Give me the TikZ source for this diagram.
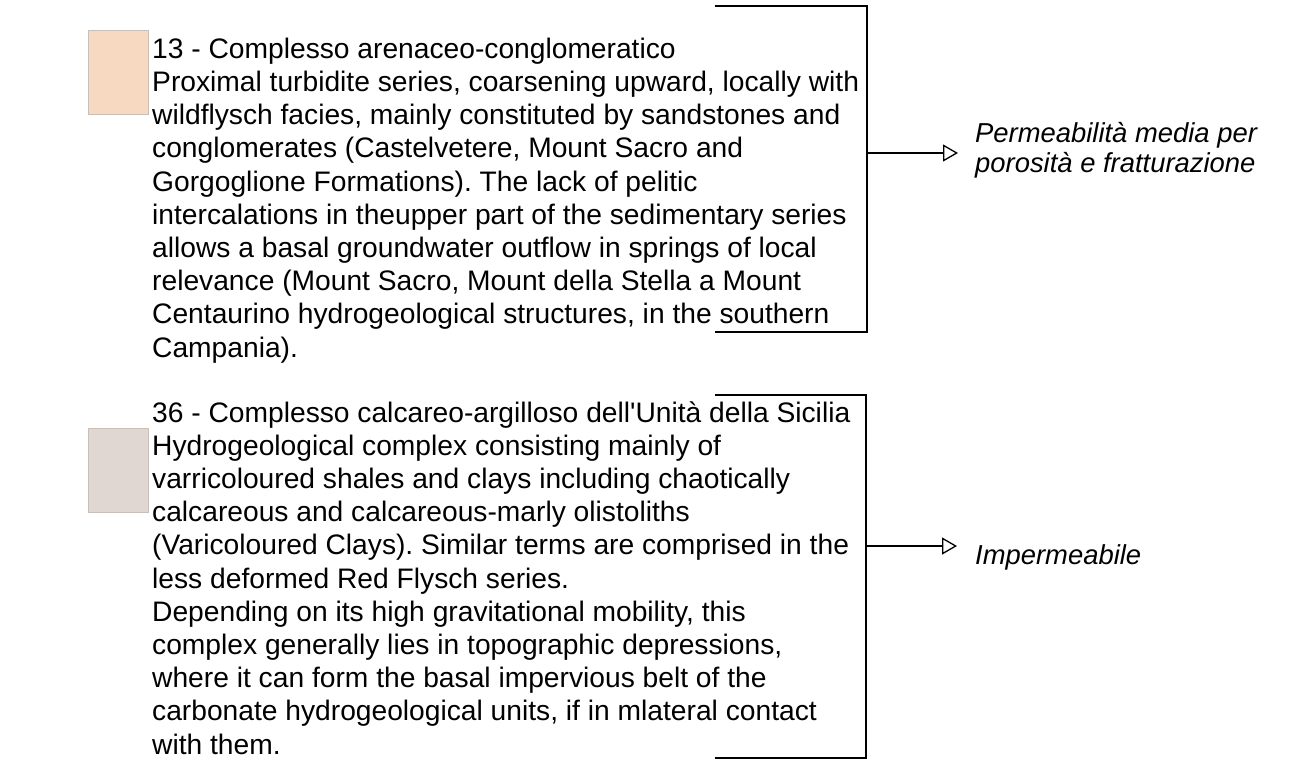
\documentclass[tikz,border=0pt]{standalone}
\usepackage{fontspec}
\setmainfont{Liberation Sans}
\usetikzlibrary{arrows.meta}
\frenchspacing
\definecolor{peach}{HTML}{F6D9C0}
\definecolor{clay}{HTML}{E0D6D2}
\definecolor{swborder}{HTML}{C8BFB8}
\tikzset{
  body/.style={anchor=base west, align=left, inner sep=0pt,
    font=\fontsize{28.2}{33.2}\selectfont},
  result/.style={anchor=base west, align=left, inner sep=0pt,
    font=\fontsize{27.4}{30}\selectfont\itshape},
  swatch/.style={draw=swborder, line width=0.8pt, minimum width=60pt,
    minimum height=84pt, inner sep=0pt, anchor=north west},
  bracket/.style={line width=1.6pt},
  link/.style={line width=1.3pt, -{Triangle[open,length=15pt,width=17pt,line width=1.3pt]}}
}
\begin{document}
\begin{tikzpicture}[x=1pt,y=-1pt]
\useasboundingbox (0,0) rectangle (1316,780);
% swatches
\node[swatch, fill=peach] (s1) at (88,30) {};
\node[swatch, fill=clay] (s2) at (88,428) {};
% text blocks (anchored at the baseline of their last line)
\node[body] (t1) at (152,357) {13 - Complesso arenaceo-conglomeratico\\
Proximal turbidite series, coarsening upward, locally with\\
wildflysch facies, mainly constituted by sandstones and\\
conglomerates (Castelvetere, Mount Sacro and\\
Gorgoglione Formations). The lack of pelitic\\
intercalations in theupper part of the sedimentary series\\
allows a basal groundwater outflow in springs of local\\
relevance (Mount Sacro, Mount della Stella a Mount\\
Centaurino hydrogeological structures, in the southern\\
Campania).};
\node[body] (t2) at (152,754) {36 - Complesso calcareo-argilloso dell\textquotesingle Unità della Sicilia\\
Hydrogeological complex consisting mainly of\\
varricoloured shales and clays including chaotically\\
calcareous and calcareous-marly olistoliths\\
(Varicoloured Clays). Similar terms are comprised in the\\
less deformed Red Flysch series.\\
Depending on its high gravitational mobility, this\\
complex generally lies in topographic depressions,\\
where it can form the basal impervious belt of the\\
carbonate hydrogeological units, if in mlateral contact\\
with them.};
% result labels
\node[result] (r1) at (975,172) {Permeabilità media per\\porosità e fratturazione};
\node[result] (r2) at (975,564) {Impermeabile};
% brackets
\coordinate (b1a) at (715,6);
\coordinate (b1b) at (867,6);
\coordinate (b1c) at (867,332);
\coordinate (b1d) at (715,332);
\coordinate (b1m) at (867,153);
\coordinate (e1) at (958,153);
\coordinate (b2a) at (715,395);
\coordinate (b2b) at (866,395);
\coordinate (b2c) at (866,758);
\coordinate (b2d) at (715,758);
\coordinate (b2m) at (866,546);
\coordinate (e2) at (957,546);
\draw[bracket] (b1a) -- (b1b) -- (b1c) -- (b1d);
\draw[bracket] (b2a) -- (b2b) -- (b2c) -- (b2d);
\draw[link] (b1m) -- (e1);
\draw[link] (b2m) -- (e2);
\end{tikzpicture}
\end{document}
